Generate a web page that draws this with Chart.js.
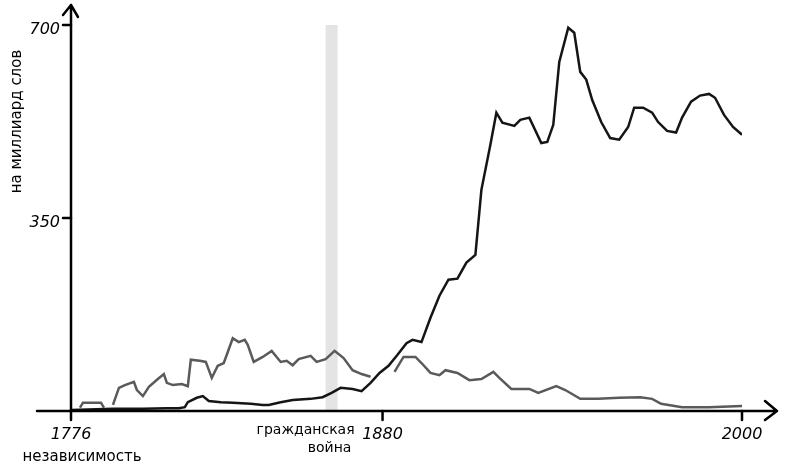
<!DOCTYPE html>
<html>
<head>
<meta charset="utf-8">
<script src="https://cdn.jsdelivr.net/npm/chart.js@4.4.1/dist/chart.umd.min.js"></script>
<style>
  html, body { margin: 0; padding: 0; background: #fff; }
  #wrap { width: 790px; height: 473px; position: relative; }
</style>
</head>
<body>
<div id="wrap"><canvas id="chart"></canvas></div>
<script>
// частота слов на миллиард слов
const blackYears = [1776, 1790, 1800, 1808, 1812, 1814, 1815, 1818, 1820, 1822, 1826, 1830, 1836, 1840, 1842, 1846, 1850, 1856, 1860, 1863, 1866, 1870, 1873, 1876, 1879, 1882, 1885, 1888, 1890, 1893, 1896, 1899, 1902, 1905, 1908, 1911, 1913, 1916, 1918, 1920, 1924, 1926, 1929, 1933, 1935, 1937, 1939, 1942, 1944, 1946, 1948, 1950, 1953, 1956, 1959, 1962, 1964, 1967, 1970, 1972, 1975, 1978, 1980, 1983, 1986, 1989, 1991, 1994, 1997, 2000];
const blackValues = [2, 4, 4, 5, 5, 7, 16, 24, 27, 18, 16, 15, 13, 11, 11, 16, 20, 22, 25, 33, 42, 40, 36, 51, 69, 82, 102, 123, 129, 125, 169, 209, 238, 240, 269, 283, 401, 483, 541, 523, 517, 528, 532, 486, 488, 519, 633, 695, 686, 615, 601, 564, 524, 495, 492, 515, 550, 550, 541, 524, 508, 505, 532, 561, 572, 575, 568, 537, 515, 501];

// null = разрыв линии
const grayYears = [1779, 1780, 1786, 1787, 1788, 1790, 1792, 1794, 1797, 1798, 1800, 1802, 1805, 1807, 1808, 1810, 1813, 1815, 1816, 1819, 1821, 1823, 1825, 1827, 1830, 1832, 1834, 1835, 1837, 1840, 1843, 1846, 1848, 1850, 1852, 1856, 1858, 1861, 1864, 1867, 1870, 1873, 1876, 1880, 1884, 1887, 1891, 1893, 1896, 1899, 1901, 1905, 1909, 1913, 1917, 1919, 1923, 1929, 1932, 1938, 1941, 1946, 1952, 1959, 1966, 1970, 1973, 1980, 1989, 2000];
const grayValues = [6, 15, 15, 6, null, 11, 42, 47, 53, 38, 27, 44, 58, 67, 51, 47, 49, 45, 93, 91, 89, 60, 82, 87, 132, 125, 129, 120, 89, 98, 109, 89, 91, 83, 94, 100, 89, 94, 109, 96, 74, 67, 62, null, 71, 98, 98, 87, 69, 65, 74, 69, 56, 58, 71, 60, 40, 40, 33, 45, 38, 22, 22, 24, 25, 22, 13, 7, 7, 9];

const civilWar = [1861, 1865];
const yTicks = [350, 700];
const xTicks = [1776, 1880, 2000];
const xTickLabels = [['1776', 'независимость'], ['1880'], ['2000']];
const yTitle = 'на миллиард слов';

const toPoints = (xs, ys) => xs.map((x, i) => ({ x: x, y: ys[i] }));

const handFont = '"DejaVu Sans", sans-serif';

const sketchAxes = {
  id: 'sketchAxes',
  beforeDatasetsDraw(chart) {
    const { ctx, scales: { x, y } } = chart;
    // полоса гражданской войны
    ctx.save();
    ctx.fillStyle = '#e4e4e4';
    const x0 = x.getPixelForValue(civilWar[0]);
    const x1 = x.getPixelForValue(civilWar[1]);
    ctx.fillRect(x0, y.getPixelForValue(700), x1 - x0, y.getPixelForValue(0) - y.getPixelForValue(700));
    ctx.restore();
  },
  afterDatasetsDraw(chart) {
    const { ctx, scales: { x, y } } = chart;
    const ox = x.getPixelForValue(1776);
    const oy = y.getPixelForValue(0);
    ctx.save();
    ctx.strokeStyle = '#000';
    ctx.lineWidth = 2.5;
    ctx.lineCap = 'round';
    ctx.lineJoin = 'round';

    // ось y со стрелкой
    ctx.beginPath();
    ctx.moveTo(ox, oy);
    ctx.lineTo(ox, 5);
    ctx.moveTo(ox - 8, 15);
    ctx.lineTo(ox, 5);
    ctx.lineTo(ox + 7, 17);
    ctx.stroke();

    // ось x со стрелкой
    const xEnd = x.getPixelForValue(2000) + 35;
    ctx.beginPath();
    ctx.moveTo(ox - 34, oy);
    ctx.lineTo(xEnd, oy);
    ctx.moveTo(xEnd - 12, oy - 10);
    ctx.lineTo(xEnd, oy);
    ctx.lineTo(xEnd - 12, oy + 9);
    ctx.stroke();

    // деления y
    ctx.fillStyle = '#000';
    ctx.font = 'italic 16px ' + handFont;
    ctx.textAlign = 'right';
    ctx.textBaseline = 'middle';
    yTicks.forEach(v => {
      const py = y.getPixelForValue(v);
      ctx.beginPath();
      ctx.moveTo(ox - 8, py);
      ctx.lineTo(ox, py);
      ctx.stroke();
      ctx.fillText(String(v), ox - 11, py + 5);
    });

    // деления x
    ctx.textAlign = 'center';
    xTicks.forEach((v, i) => {
      const px = x.getPixelForValue(v);
      ctx.beginPath();
      ctx.moveTo(px, oy);
      ctx.lineTo(px, oy + 9);
      ctx.stroke();
      const lines = xTickLabels[i];
      ctx.font = 'italic 16px ' + handFont;
      ctx.fillText(lines[0], px, oy + 24);
      if (lines[1]) {
        ctx.font = '15px ' + handFont;
        ctx.fillText(lines[1], px + 11, oy + 46);
      }
    });

    // подпись гражданской войны
    const cx = x.getPixelForValue((civilWar[0] + civilWar[1]) / 2);
    ctx.font = '14px ' + handFont;
    ctx.fillText('гражданская', cx - 26, oy + 19);
    ctx.fillText('война', cx - 2, oy + 37);

    // заголовок оси y
    ctx.translate(17, y.getPixelForValue(525));
    ctx.rotate(-Math.PI / 2);
    ctx.font = '15px ' + handFont;
    ctx.fillText(yTitle, 0, 0);
    ctx.restore();
  }
};

new Chart(document.getElementById('chart'), {
  type: 'line',
  data: {
    datasets: [
      {
        label: 'black',
        data: toPoints(blackYears, blackValues),
        borderColor: '#151515',
        borderWidth: 2.5,
        pointRadius: 0,
        tension: 0
      },
      {
        label: 'gray',
        data: toPoints(grayYears, grayValues),
        borderColor: '#5a5a5a',
        borderWidth: 2.5,
        pointRadius: 0,
        tension: 0,
        spanGaps: false
      }
    ]
  },
  options: {
    responsive: true,
    maintainAspectRatio: false,
    animation: false,
    layout: { padding: { left: 71, right: 48, top: 25, bottom: 62 } },
    scales: {
      x: { type: 'linear', min: 1776, max: 2000, display: false },
      y: { min: 0, max: 700, display: false }
    },
    plugins: {
      legend: { display: false },
      tooltip: { enabled: false }
    }
  },
  plugins: [sketchAxes]
});
</script>
</body>
</html>
